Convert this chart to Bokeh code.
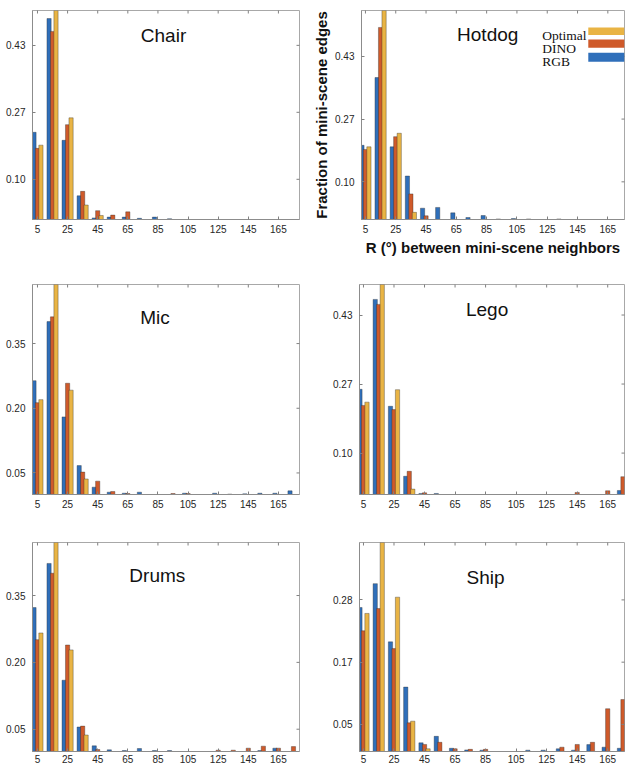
import math
from bokeh.plotting import figure
from bokeh.models import (ColumnDataSource, FixedTicker, Range1d, Label, BoxAnnotation)
from bokeh.layouts import column, row
from bokeh.transform import dodge
from bokeh.embed import file_html
from bokeh.resources import INLINE

# ---------------- data ----------------
bins = [5, 15, 25, 35, 45, 55, 65, 75, 85, 95, 105, 115, 125, 135, 145, 155, 165, 175]
x_ticks = [5, 25, 45, 65, 85, 105, 125, 145, 165]
series = ["RGB", "DINO", "Optimal"]
legend_order = ["Optimal", "DINO", "RGB"]

chair_rgb = [0.217, 0.500, 0.197, 0.059, 0.004, 0.006, 0.006, 0.003, 0.006, 0.002, 0, 0, 0, 0, 0, 0, 0, 0]
chair_dino = [0.177, 0.468, 0.236, 0.070, 0.022, 0.011, 0.019, 0, 0, 0, 0, 0, 0, 0, 0, 0, 0, 0]
chair_opt = [0.185, 0.560, 0.253, 0.036, 0.010, 0, 0, 0, 0, 0, 0, 0, 0, 0, 0, 0, 0, 0]

hotdog_rgb = [0.197, 0.377, 0.193, 0.1155, 0.030, 0.032, 0.0176, 0.0053, 0.0106, 0.0015, 0.0026, 0.0015, 0, 0.0015, 0, 0, 0, 0]
hotdog_dino = [0.186, 0.510, 0.220, 0.068, 0.0097, 0, 0, 0, 0, 0, 0, 0, 0, 0, 0, 0, 0, 0]
hotdog_opt = [0.193, 0.600, 0.229, 0.019, 0, 0, 0, 0, 0, 0, 0, 0, 0, 0, 0, 0, 0, 0]

mic_rgb = [0.264, 0.401, 0.180, 0.067, 0.017, 0.0054, 0.003, 0.0054, 0, 0, 0.003, 0, 0.003, 0.001, 0.0015, 0.003, 0.003, 0.0085]
mic_dino = [0.213, 0.412, 0.258, 0.052, 0.031, 0.007, 0.0023, 0, 0, 0.0023, 0.0023, 0, 0, 0, 0, 0, 0, 0]
mic_opt = [0.220, 0.500, 0.242, 0.036, 0, 0, 0, 0, 0, 0, 0, 0, 0, 0, 0, 0, 0, 0]

lego_rgb = [0.254, 0.471, 0.213, 0.044, 0.0025, 0.0025, 0, 0, 0, 0, 0, 0, 0, 0, 0, 0, 0, 0.0097]
lego_dino = [0.215, 0.459, 0.205, 0.056, 0.004, 0, 0, 0, 0, 0, 0, 0, 0, 0, 0.005, 0, 0.009, 0.043]
lego_opt = [0.223, 0.550, 0.253, 0.013, 0, 0, 0, 0, 0, 0, 0, 0, 0, 0, 0, 0, 0, 0]

drums_rgb = [0.323, 0.422, 0.160, 0.055, 0.0127, 0.0037, 0.0022, 0.0067, 0.0022, 0.0022, 0, 0, 0, 0, 0, 0.0022, 0.0075, 0]
drums_dino = [0.251, 0.400, 0.239, 0.057, 0.0045, 0, 0, 0, 0, 0, 0, 0, 0.003, 0.003, 0.0075, 0.012, 0.0075, 0.011]
drums_opt = [0.266, 0.500, 0.228, 0.037, 0, 0, 0, 0, 0, 0, 0, 0, 0, 0, 0, 0, 0, 0]

ship_rgb = [0.266, 0.310, 0.2025, 0.119, 0.016, 0.028, 0.006, 0.003, 0.0025, 0, 0, 0.0025, 0.0025, 0.005, 0.0025, 0.0127, 0.008, 0.006]
ship_dino = [0.223, 0.264, 0.190, 0.053, 0.013, 0.017, 0.005, 0.004, 0.004, 0, 0, 0, 0, 0.008, 0.013, 0.017, 0.079, 0.096]
ship_opt = [0.255, 0.420, 0.285, 0.056, 0.005, 0, 0, 0, 0, 0, 0, 0, 0, 0, 0, 0, 0, 0]

ticks_a = [0.10, 0.2667, 0.4333]
labels_a = ["0.10", "0.27", "0.43"]
ticks_b = [0.05, 0.20, 0.35]
labels_b = ["0.05", "0.20", "0.35"]
ticks_c = [0.05, 0.165, 0.28]
labels_c = ["0.05", "0.17", "0.28"]

# ---------------- style ----------------
COLORS = {"RGB": "#2f6fba", "DINO": "#cf5a2a", "Optimal": "#e9b444"}
OFFSETS = {"RGB": -2.3, "DINO": 0.0, "Optimal": 2.3}
BAR_W = 2.8
SANS = "Liberation Sans"
SERIF = "Liberation Serif"
TICK_COL = "#808080"
LABEL_COL = "#262626"


def nz(vals):
    return [v if v > 0 else float("nan") for v in vals]


def panel(name, rgb, dino, opt, ymax, yticks, ylabels, xr, w, h,
          bl, br, bt, bb, tx, ty, xlabel=None, ylabel=None, xstand=5):
    p = figure(width=w, height=h, x_range=Range1d(*xr), y_range=Range1d(0, ymax),
               output_backend="svg", toolbar_location=None,
               min_border_left=bl, min_border_right=br,
               min_border_top=bt, min_border_bottom=bb)
    p.background_fill_color = "white"
    p.border_fill_color = "white"
    p.outline_line_color = "#a8a8a8"
    p.outline_line_width = 1
    p.xgrid.visible = False
    p.ygrid.visible = False

    src = ColumnDataSource(dict(x=bins, RGB=nz(rgb), DINO=nz(dino), Optimal=nz(opt)))
    for s in series:
        p.vbar(x=dodge("x", OFFSETS[s], range=p.x_range), top=s, bottom=0,
               width=BAR_W, source=src, fill_color=COLORS[s],
               line_color="#2a2a2a", line_alpha=0.45, line_width=0.8)

    xa = p.xaxis[0]
    xa.ticker = FixedTicker(ticks=x_ticks)
    ya = p.yaxis[0]
    ya.ticker = FixedTicker(ticks=yticks)
    ya.major_label_overrides = {t: l for t, l in zip(yticks, ylabels)}
    for ax in (xa, ya):
        ax.axis_line_color = "#8c8c8c"
        ax.major_tick_line_color = TICK_COL
        ax.major_tick_in = 3
        ax.major_tick_out = 0
        ax.minor_tick_line_color = None
        ax.major_label_text_font = SANS
        ax.major_label_text_font_size = "10px"
        ax.major_label_text_color = LABEL_COL
    xa.major_label_standoff = xstand
    ya.major_label_standoff = 7

    # mirrored ticks on top and right edges (box on): half-clipped dash markers
    p.scatter(x=x_ticks, y=[ymax] * len(x_ticks), marker="dash", angle=math.pi / 2,
              size=6, line_color=TICK_COL, line_width=1)
    p.scatter(x=[xr[1]] * len(yticks), y=yticks, marker="dash", angle=0,
              size=6, line_color=TICK_COL, line_width=1)

    if xlabel:
        xa.axis_label = xlabel
        xa.axis_label_text_font = SANS
        xa.axis_label_text_font_style = "bold"
        xa.axis_label_text_font_size = "15px"
        xa.axis_label_text_color = "#111111"
        xa.axis_label_standoff = 3
    if ylabel:
        ya.axis_label = ylabel
        ya.axis_label_text_font = SANS
        ya.axis_label_text_font_style = "bold"
        ya.axis_label_text_font_size = "15px"
        ya.axis_label_text_color = "#111111"
        ya.axis_label_standoff = 2

    p.add_layout(Label(x=tx, y=ty, text=name, text_font=SANS, text_font_size="19px",
                       text_color="#111111", text_align="center", text_baseline="middle"))
    return p


XL = (1.7, 179.0)
XR = (2.4, 176.0)
WL, WR = 310, 315

chair = panel("Chair", chair_rgb, chair_dino, chair_opt, 0.52, ticks_a, labels_a, XL, WL, 258,
              32, 11, 10, 38, 88.7, 0.459)
hotdog = panel("Hotdog", hotdog_rgb, hotdog_dino, hotdog_opt, 0.555, ticks_a, labels_a, XR, WR, 258,
               49, 1, 10, 38, 85.7, 0.490,
               xlabel="R (°) between mini-scene neighbors",
               ylabel="Fraction of mini-scene edges")
mic = panel("Mic", mic_rgb, mic_dino, mic_opt, 0.487, ticks_b, labels_b, XL, WL, 252,
            32, 11, 26, 16, 83.0, 0.410)
lego = panel("Lego", lego_rgb, lego_dino, lego_opt, 0.507, ticks_a, labels_a, XR, WR, 252,
             49, 1, 26, 16, 86.0, 0.447)
drums = panel("Drums", drums_rgb, drums_dino, drums_opt, 0.469, ticks_b, labels_b, XL, WL, 255,
              32, 11, 32, 13, 84.6, 0.395, xstand=3)
ship = panel("Ship", ship_rgb, ship_dino, ship_opt, 0.386, ticks_c, labels_c, XR, WR, 255,
             49, 1, 32, 13, 85.0, 0.322, xstand=3)

# legend (text left, swatch right) inside Hotdog panel
leg_text_y = [0.488, 0.455, 0.419]
leg_box = [(0.510, 0.490), (0.478, 0.456), (0.443, 0.419)]
for nm, ty, (b_top, b_bot) in zip(legend_order, leg_text_y, leg_box):
    hotdog.add_layout(Label(x=121.7, y=ty, text=nm, text_font=SERIF, text_font_size="13.5px",
                            text_color="#111111", text_align="left", text_baseline="alphabetic"))
    hotdog.add_layout(BoxAnnotation(left=152.1, right=176.0, top=b_top, bottom=b_bot,
                                    fill_color=COLORS[nm], fill_alpha=1.0,
                                    line_color=None))

layout = column(row(chair, hotdog), row(mic, lego), row(drums, ship))
open("out.html", "w").write(file_html(layout, INLINE))
